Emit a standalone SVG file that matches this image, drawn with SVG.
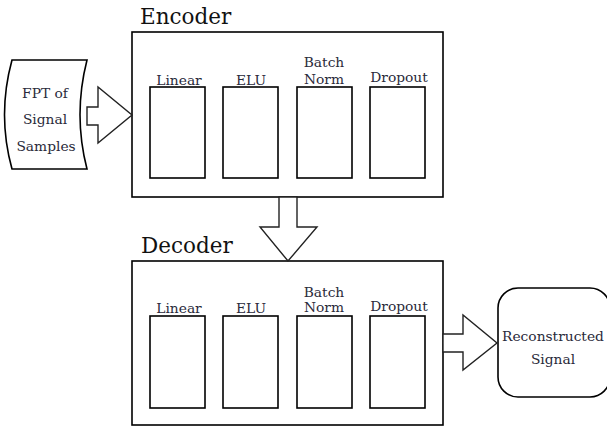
<svg xmlns="http://www.w3.org/2000/svg" width="607" height="428" viewBox="0 0 607 428">
<style>
.box{fill:#fff;stroke:#000;stroke-width:1.6}
.arr{fill:#fff;stroke:#222;stroke-width:1.4;stroke-linejoin:miter}
.title{font-family:"DejaVu Serif","Liberation Serif",serif;font-size:21.5px;fill:#111}
.lbl{font-family:"DejaVu Serif","Liberation Serif",serif;font-size:13.8px;fill:#2a2a3a;text-anchor:middle}
</style>
<rect width="607" height="428" fill="#fff"/>
<g id="input">
<path class="box" d="M12,60 L87,60 Q73,115 87,169 L12,169 Q-3,115 12,60 Z"/>
<text class="lbl" x="45" y="98">FPT of</text>
<text class="lbl" x="45" y="124">Signal</text>
<text class="lbl" x="46" y="151">Samples</text>
</g>
<g id="encoder">
<text class="title" x="140" y="24">Encoder</text>
<rect class="box" x="132" y="32" width="311" height="165"/>
<rect class="box" x="150" y="87" width="55" height="91"/>
<rect class="box" x="223" y="87" width="55" height="91"/>
<rect class="box" x="297" y="87" width="55" height="91"/>
<rect class="box" x="370" y="87" width="55" height="91"/>
<text class="lbl" x="179" y="85">Linear</text>
<text class="lbl" x="251" y="85">ELU</text>
<text class="lbl" x="324" y="67">Batch</text>
<text class="lbl" x="324" y="84">Norm</text>
<text class="lbl" x="399" y="82">Dropout</text>
</g>
<g id="decoder">
<text class="title" x="141" y="253">Decoder</text>
<rect class="box" x="132" y="261" width="311" height="164"/>
<rect class="box" x="150" y="316" width="55" height="92"/>
<rect class="box" x="223" y="316" width="55" height="92"/>
<rect class="box" x="297" y="316" width="55" height="92"/>
<rect class="box" x="370" y="316" width="55" height="92"/>
<text class="lbl" x="179" y="313">Linear</text>
<text class="lbl" x="251" y="313">ELU</text>
<text class="lbl" x="324" y="297">Batch</text>
<text class="lbl" x="324" y="312">Norm</text>
<text class="lbl" x="399" y="311">Dropout</text>
</g>
<g id="output">
<rect class="box" x="498" y="288" width="112" height="109" rx="20" ry="20"/>
<text class="lbl" x="553" y="341">Reconstructed</text>
<text class="lbl" x="553" y="364">Signal</text>
</g>
<g id="connectors">
<path class="arr" d="M87,107 L98,107 L98,87 L132,115 L98,143 L98,125 L87,125 Z"/>
<path class="arr" d="M279,197 L297,197 L297,227 L317,227 L288,261 L260,227 L279,227 Z"/>
<path class="arr" d="M443,334 L463,334 L463,315 L497,343 L463,370 L463,352 L443,352 Z"/>
</g>
</svg>
